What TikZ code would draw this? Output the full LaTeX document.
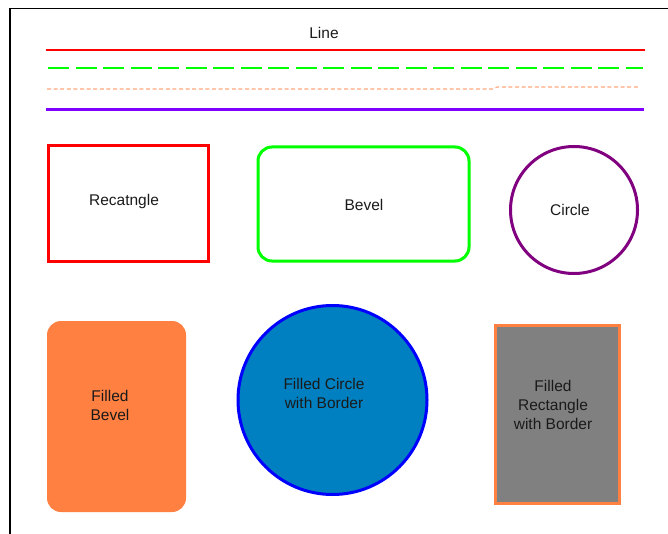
\documentclass[tikz,border=0pt]{standalone}
\usepackage{fontspec}
\setmainfont{Liberation Sans}
\definecolor{lnred}{HTML}{FF0000}
\definecolor{lngreen}{HTML}{00FF00}
\definecolor{lnorange}{HTML}{FFA87C}
\definecolor{lnpurple}{HTML}{8000FF}
\definecolor{cpurple}{HTML}{800080}
\definecolor{forange}{HTML}{FF8040}
\definecolor{fblue}{HTML}{0080C0}
\definecolor{fgray}{HTML}{808080}
\definecolor{txt}{HTML}{1A1A1A}
\begin{document}
\begin{tikzpicture}[x=1pt,y=-1pt,
  label/.style={font=\fontsize{15.5}{19}\selectfont, text=txt, align=center, inner sep=0pt},
  shapebox/.style={line width=3pt},
  hline/.style={line width=1.1pt}]
\useasboundingbox (0,0) rectangle (668,534);
% page frame
\draw[line width=1.6pt] (10,560) -- (10,8.5) -- (700,8.5);

% line samples
\node[label] (title) at (324,33) {Line};
\coordinate (r1) at (46,50);  \coordinate (r2) at (645,50);
\coordinate (g1) at (48,68);  \coordinate (g2) at (643,68);
\coordinate (o1) at (47,89);  \coordinate (o2) at (494,89);
\coordinate (o3) at (497,87); \coordinate (o4) at (640,87);
\coordinate (p1) at (46,110); \coordinate (p2) at (644,110);
\draw[hline, lnred] (r1) -- (r2);
\draw[hline, lngreen, dash pattern=on 21pt off 6.5pt] (g1) -- (g2);
\draw[hline, lnorange, dash pattern=on 4pt off 2.6pt] (o1) -- (o2) -- (o3) -- (o4);
\draw[line width=3pt, lnpurple] (p1) -- (p2);

% outlined shapes
\draw[shapebox, lnred] (48,146) rectangle (208,261);
\node[label] (rect) at (124,201) {Recatngle};
\draw[shapebox, lngreen, rounded corners=14pt] (258,147) rectangle (469,261);
\node[label] (bevel) at (364,205) {Bevel};
\draw[shapebox, cpurple] (574,210) circle (63.5);
\node[label] (circ) at (570,210) {Circle};

% filled shapes
\fill[forange, rounded corners=14pt] (47,321) rectangle (186,512);
\node[label] (fbevel) at (110,405) {Filled\\Bevel};
\draw[shapebox, blue, fill=fblue] (332.5,400) circle (94.5);
\node[label] (fcirc) at (324,393) {Filled Circle\\with Border};
\draw[shapebox, forange, fill=fgray] (495.5,325.5) rectangle (619,503);
\node[label] (frect) at (553,405) {Filled\\Rectangle\\with Border};
\end{tikzpicture}
\end{document}
